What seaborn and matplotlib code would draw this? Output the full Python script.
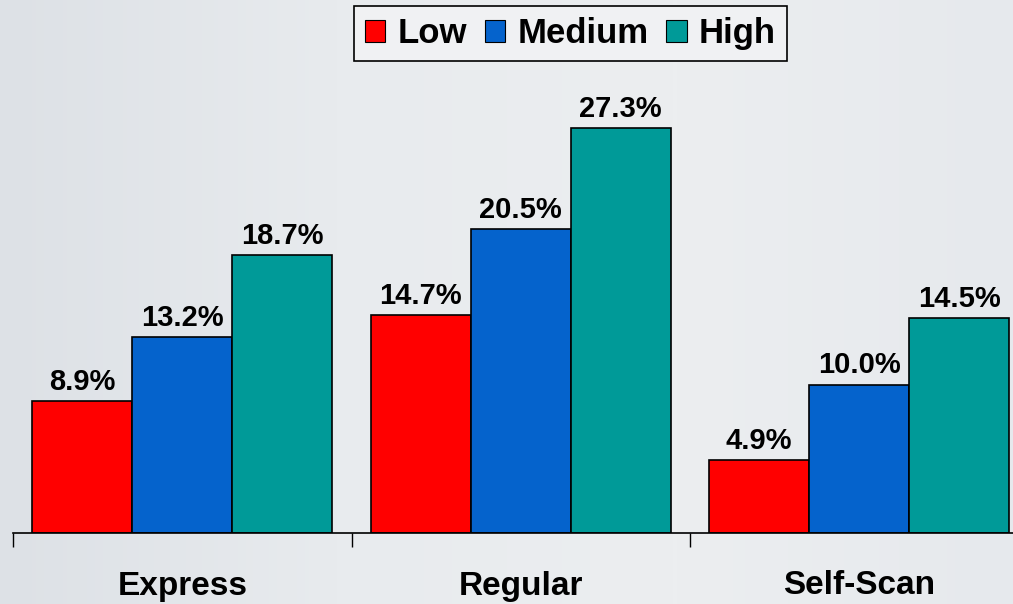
import numpy as np
import pandas as pd
import matplotlib
matplotlib.use("Agg")
import matplotlib.pyplot as plt
import seaborn as sns
from matplotlib.patches import Patch

# Share of transactions by lane type and level
lanes = ["Express", "Regular", "Self-Scan"]
levels = ["Low", "Medium", "High"]
low = [8.9, 14.7, 4.9]
medium = [13.2, 20.5, 10.0]
high = [18.7, 27.3, 14.5]
palette = ["#FF0000", "#0563CC", "#009A98"]

df = pd.DataFrame({
    "lane": lanes * 3,
    "level": [levels[0]] * 3 + [levels[1]] * 3 + [levels[2]] * 3,
    "value": low + medium + high,
})

sns.set_theme(style="white")
plt.rcParams["font.family"] = ["Liberation Sans", "DejaVu Sans"]
plt.rcParams["text.color"] = "black"

W, H = 1013, 604
fig = plt.figure(figsize=(W / 100, H / 100), dpi=100)

# soft grey backdrop with a faint left-to-right lightening
bg = fig.add_axes([0, 0, 1, 1], zorder=-10)
xs = np.linspace(0, 1, 256)
grad = np.tile(xs, (16, 1))
bg.imshow(grad, aspect="auto", cmap=matplotlib.colors.LinearSegmentedColormap.from_list(
    "bgc", ["#dde1e6", "#e8ebee", "#eceef0", "#e6e9ed"]), extent=[0, 1, 0, 1])
bg.set_axis_off()

px_per_unit = 338.5
y_scale = 14.84  # pixels per percentage point
ymax = 30
left_px, base_px = 13, 533
ax = fig.add_axes([left_px / W, (H - base_px) / H,
                   3 * px_per_unit / W, ymax * y_scale / H])
ax.patch.set_alpha(0)

sns.barplot(data=df, x="lane", y="value", hue="level", order=lanes,
            hue_order=levels, palette=palette, width=300 / px_per_unit,
            edgecolor="black", linewidth=1.2, saturation=1, ax=ax,
            legend=False, errorbar=None)

for cont in ax.containers:
    for bar in cont:
        v = bar.get_height()
        ax.annotate(f"{v:.1f}%", (bar.get_x() + bar.get_width() / 2, v),
                    xytext=(0, 8), textcoords="offset points",
                    ha="center", va="baseline", fontsize=21, fontweight="bold",
                    color="black")

ax.set_xlim(-0.5, 2.5)
ax.set_ylim(0, ymax)
ax.set_xlabel("")
ax.set_ylabel("")
ax.set_yticks([])
for s in ["left", "right", "top"]:
    ax.spines[s].set_visible(False)
ax.spines["bottom"].set_color("black")
ax.spines["bottom"].set_linewidth(1.2)

ax.set_xticks(range(3))
ax.set_xticklabels(lanes, fontsize=24, fontweight="bold", color="black")
ax.tick_params(axis="x", which="major", length=0, pad=27)
ax.set_xticks([-0.5, 0.5, 1.5, 2.5], minor=True)
ax.tick_params(axis="x", which="minor", length=10, width=1.0, color="black",
               direction="out", bottom=True)

handles = [Patch(facecolor=c, edgecolor="black", linewidth=0.8) for c in palette]
leg = fig.legend(handles, levels, loc="upper center", bbox_to_anchor=(0.563, 0.990),
                 ncol=3, frameon=True, fancybox=False, edgecolor="black",
                 facecolor="#f0f1f3", framealpha=1,
                 prop={"weight": "bold", "size": 25},
                 handlelength=0.6, handleheight=0.6, handletextpad=0.35,
                 columnspacing=0.5, borderpad=0.32, borderaxespad=0)
leg.get_frame().set_linewidth(1.2)
for t in leg.get_texts():
    t.set_color("black")

fig.savefig("out.png", dpi=100)
